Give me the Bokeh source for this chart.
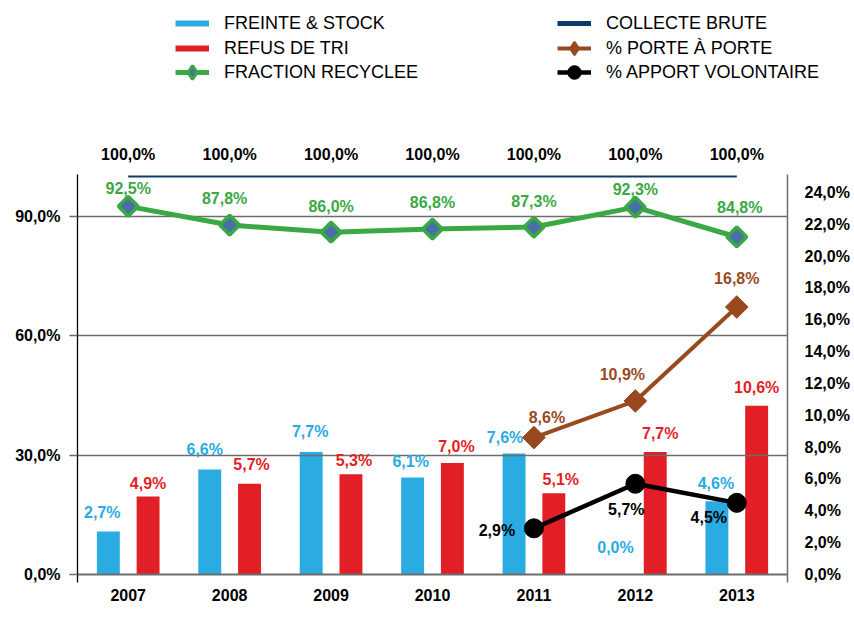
from bokeh.plotting import figure
from bokeh.models import (ColumnDataSource, Range1d, LinearAxis, FixedTicker, FactorRange,
                          Legend, LegendItem)
from bokeh.layouts import column
from bokeh.transform import dodge
from bokeh.core.properties import value
from bokeh.embed import file_html
from bokeh.resources import INLINE
import numpy as np

# ---------------- data ----------------
years = ["2007", "2008", "2009", "2010", "2011", "2012", "2013"]
freinte = [2.7, 6.6, 7.7, 6.1, 7.6, 0.0, 4.6]          # right axis (%)
refus = [4.9, 5.7, 6.3, 7.0, 5.1, 7.7, 10.6]           # right axis (%)
fraction = [92.5, 87.8, 86.0, 86.8, 87.3, 92.3, 84.8]  # left axis (%)
collecte = [100.0, 100.0, 100.0, 100.0, 100.0, 100.0, 100.0]  # left axis (%)

pav_years = ["2011", "2012", "2013"]
porte = [8.6, 10.9, 16.8]     # right axis (%)
apport = [2.9, 5.7, 4.5]      # right axis (%)

freinte_labels = ["2,7%", "6,6%", "7,7%", "6,1%", "7,6%", "0,0%", "4,6%"]
refus_labels = ["4,9%", "5,7%", "5,3%", "7,0%", "5,1%", "7,7%", "10,6%"]
fraction_labels = ["92,5%", "87,8%", "86,0%", "86,8%", "87,3%", "92,3%", "84,8%"]
collecte_labels = ["100,0%", "100,0%", "100,0%", "100,0%", "100,0%", "100,0%", "100,0%"]
porte_labels = ["8,6%", "10,9%", "16,8%"]
apport_labels = ["2,9%", "5,7%", "4,5%"]

left_ticks = [0, 30, 60, 90]
left_tick_labels = ["0,0%", "30,0%", "60,0%", "90,0%"]
right_ticks = [0, 2, 4, 6, 8, 10, 12, 14, 16, 18, 20, 22, 24]
right_tick_labels = ["0,0%", "2,0%", "4,0%", "6,0%", "8,0%", "10,0%", "12,0%",
                     "14,0%", "16,0%", "18,0%", "20,0%", "22,0%", "24,0%"]

series_names = ["FREINTE & STOCK", "REFUS DE TRI", "FRACTION RECYCLEE",
                "COLLECTE BRUTE", "% PORTE À PORTE", "% APPORT VOLONTAIRE"]

# ---------------- label placement (pixels, style only) ----------------
freinte_dx = [-6, -5, -1, -2, -9, 0, -1]
freinte_dy = [-19, -20, -20, -16, -16, -27, -18]
refus_dx = [0, 2, 3, 4, 7, 5, 0]
refus_dy = [-13, -19, -14, -17, -14, -18, -18]
fraction_dx = [0, -5, 0, 0, 0, 0, 3]
fraction_dy = [-18, -27, -26, -27, -26, -18, -29]
porte_dx = [13, -13, 0]
porte_dy = [-20, -26, -29]
apport_dx = [-37, -9, -28]
apport_dy = [2, 26, 15]

BLUE = "#2aabe1"
RED = "#e21f26"
GREEN = "#3aa845"
GREEN_FILL = "#4a6ea6"
NAVY = "#0c3b69"
BROWN = "#984a1e"
GRID = "#6d6d6d"
FONT = "Liberation Sans"

src = ColumnDataSource(dict(
    year=years, freinte=freinte, refus=refus, fraction=fraction, collecte=collecte,
    freinte_lbl=freinte_labels, refus_lbl=refus_labels, fraction_lbl=fraction_labels,
    collecte_lbl=collecte_labels,
    fdx=freinte_dx, fdy=freinte_dy, rdx=refus_dx, rdy=refus_dy,
    gdx=fraction_dx, gdy=fraction_dy,
))
src2 = ColumnDataSource(dict(
    year=pav_years, porte=porte, apport=apport,
    porte_lbl=porte_labels, apport_lbl=apport_labels,
    pdx=porte_dx, pdy=porte_dy, adx=apport_dx, ady=apport_dy,
))

W = 852
LEG_H = 86
MAIN_H = 542

# ================= main chart =================
p = figure(x_range=FactorRange(*years), y_range=Range1d(-2.01, 122.61),
           width=W, height=MAIN_H, output_backend="svg", toolbar_location=None,
           min_border_left=77, min_border_right=63, min_border_top=0,
           min_border_bottom=46, frame_align=False)
p.outline_line_color = None
p.extra_y_ranges = {"right": Range1d(-0.5025, 30.65)}
p.xgrid.visible = False
p.ygrid.visible = False

laxis = p.yaxis[0]
laxis.ticker = FixedTicker(ticks=left_ticks)
laxis.major_label_overrides = dict(zip(left_ticks, left_tick_labels))
laxis.bounds = (-2.01, 100.5)
laxis.axis_line_color = "black"
laxis.axis_line_width = 1.3
laxis.major_tick_line_color = GRID
laxis.major_tick_line_width = 1.5
laxis.major_tick_out = 8
laxis.major_tick_in = 0
laxis.minor_tick_line_color = None
laxis.major_label_standoff = 9
laxis.major_label_text_font = FONT
laxis.major_label_text_font_style = "bold"
laxis.major_label_text_font_size = "16px"
laxis.major_label_text_color = "black"

xaxis = p.xaxis[0]
xaxis.axis_line_color = None
xaxis.major_tick_line_color = None
xaxis.major_tick_out = 0
xaxis.major_tick_in = 0
xaxis.major_label_standoff = 6
xaxis.major_label_text_font = FONT
xaxis.major_label_text_font_style = "bold"
xaxis.major_label_text_font_size = "16px"
xaxis.major_label_text_color = "black"

raxis = LinearAxis(y_range_name="right", ticker=FixedTicker(ticks=right_ticks),
                   major_label_overrides=dict(zip(right_ticks, right_tick_labels)),
                   bounds=(-0.5025, 25.125))
raxis.axis_line_color = GRID
raxis.axis_line_width = 1.5
raxis.major_tick_line_color = None
raxis.major_tick_out = 0
raxis.major_tick_in = 0
raxis.minor_tick_line_color = None
raxis.major_label_standoff = 17
raxis.major_label_text_font = FONT
raxis.major_label_text_font_style = "bold"
raxis.major_label_text_font_size = "16px"
raxis.major_label_text_color = "black"
p.add_layout(raxis, "right")

BW = 0.226
OFF = 0.196
p.vbar(x=dodge("year", -OFF, range=p.x_range), top="freinte", width=BW, source=src,
       y_range_name="right", fill_color=BLUE, line_color=None)
p.vbar(x=dodge("year", OFF, range=p.x_range), top="refus", width=BW, source=src,
       y_range_name="right", fill_color=RED, line_color=None)

p.hspan(y=left_ticks[1:], line_color=GRID, line_width=1.5)
p.hspan(y=left_ticks[:1], line_color=GRID, line_width=2.2)

p.line(x="year", y="collecte", source=src, line_color=NAVY, line_width=2)
p.line(x="year", y="fraction", source=src, line_color=GREEN, line_width=5)
p.scatter(x="year", y="fraction", source=src, marker="square", angle=np.pi / 4,
          size=14, fill_color=GREEN_FILL, line_color=GREEN, line_width=3.5)
p.line(x="year", y="porte", source=src2, y_range_name="right",
       line_color=BROWN, line_width=4)
p.scatter(x="year", y="porte", source=src2, y_range_name="right", marker="square",
          angle=np.pi / 4, size=16, fill_color=BROWN, line_color=BROWN, line_width=1)
p.line(x="year", y="apport", source=src2, y_range_name="right",
       line_color="black", line_width=4.5)
p.scatter(x="year", y="apport", source=src2, y_range_name="right", marker="circle",
          size=19, fill_color="black", line_color="black")

def lbl(**kw):
    base = dict(text_align="center", text_baseline="middle", text_font=value(FONT),
                text_font_style="bold", text_font_size="16px")
    base.update(kw)
    return base

p.text(x=dodge("year", -OFF, range=p.x_range), y="freinte", text="freinte_lbl", source=src,
       y_range_name="right", x_offset="fdx", y_offset="fdy", **lbl(text_color=BLUE))
p.text(x=dodge("year", OFF, range=p.x_range), y="refus", text="refus_lbl", source=src,
       y_range_name="right", x_offset="rdx", y_offset="rdy", **lbl(text_color=RED))
p.text(x="year", y="fraction", text="fraction_lbl", source=src,
       x_offset="gdx", y_offset="gdy", **lbl(text_color=GREEN))
p.text(x="year", y="porte", text="porte_lbl", source=src2, y_range_name="right",
       x_offset="pdx", y_offset="pdy", **lbl(text_color=BROWN))
p.text(x="year", y="apport", text="apport_lbl", source=src2, y_range_name="right",
       x_offset="adx", y_offset="ady", **lbl(text_color="black"))
p.text(x="year", y="collecte", text="collecte_lbl", source=src, y_offset=-22,
       **lbl(text_color="black"))

# ================= legend strip =================
lf = figure(x_range=FactorRange(*years), y_range=Range1d(0, 1), width=W, height=LEG_H,
            output_backend="svg", toolbar_location=None,
            x_axis_location=None, y_axis_location=None, frame_align=False,
            min_border_left=0, min_border_right=0, min_border_top=0, min_border_bottom=0)
lf.outline_line_color = None
lf.xgrid.visible = False
lf.ygrid.visible = False

def leg_line(col, color, width, s=src):
    return lf.line(x="year", y=col, source=s, line_color=color, line_width=width,
                   visible=False)

def leg_marker(col, marker, fill, line, width, s=src):
    return lf.scatter(x="year", y=col, source=s, marker=marker, fill_color=fill,
                      line_color=line, line_width=width, visible=False)

leg_entries = [
    ([leg_line("freinte", BLUE, 6)], series_names[0], 175, 23),
    ([leg_line("refus", RED, 6)], series_names[1], 175, 48),
    ([leg_line("fraction", GREEN, 5), leg_marker("fraction", "diamond", GREEN_FILL, GREEN, 3)],
     series_names[2], 175, 72),
    ([leg_line("collecte", NAVY, 5)], series_names[3], 557, 23),
    ([leg_line("porte", BROWN, 4, src2), leg_marker("porte", "diamond", BROWN, BROWN, 2, src2)],
     series_names[4], 557, 48),
    ([leg_line("apport", "black", 4.5, src2),
      leg_marker("apport", "circle", "black", "black", 1, src2)],
     series_names[5], 557, 72),
]

GH = 40
for rends, name, sx, cy in leg_entries:
    lg = Legend(items=[LegendItem(label=name, renderers=rends)],
                location=(sx, LEG_H - GH - cy + GH // 2),
                glyph_width=34, glyph_height=GH, label_height=20,
                label_standoff=15, padding=0, margin=0, spacing=0,
                border_line_color=None, background_fill_alpha=0,
                label_text_font=FONT, label_text_font_size="18px",
                label_text_color="black")
    lf.add_layout(lg)

layout = column(lf, p, spacing=0)
open("out.html", "w").write(file_html(layout, INLINE))
